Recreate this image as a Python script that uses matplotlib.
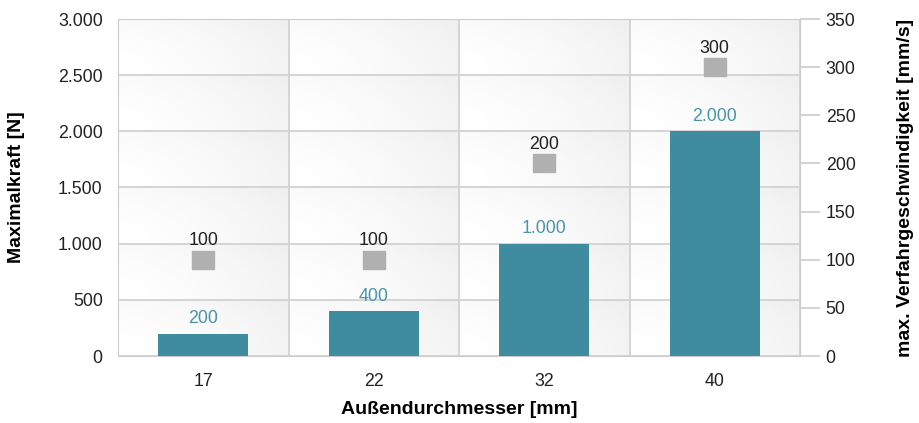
import matplotlib.pyplot as plt
import numpy as np
from matplotlib.path import Path

plt.rcParams['font.family'] = ['Liberation Sans', 'DejaVu Sans']

categories = ['17', '22', '32', '40']
kraft = [200, 400, 1000, 2000]          # Maximalkraft [N]
speed = [100, 100, 200, 300]            # max. Verfahrgeschwindigkeit [mm/s]
kraft_labels = ['200', '400', '1.000', '2.000']
left_ticks = [0, 500, 1000, 1500, 2000, 2500, 3000]
left_labels = ['0', '500', '1.000', '1.500', '2.000', '2.500', '3.000']
right_ticks = [0, 50, 100, 150, 200, 250, 300, 350]

bar_col = '#3f8ba0'
lab_col = '#4a95a8'
sq_col = '#b0b0b0'
fs = 12.8

fig = plt.figure(figsize=(9.2, 4.23), dpi=100)
fig.patch.set_facecolor('white')
ax1 = fig.add_axes([118/920, 1-356/423, (800-118)/920, (356-19)/423])
x = np.arange(len(categories))

# shaded cells (white to light gray)
gx = np.linspace(0, 1, 60)
gy = np.linspace(0, 1, 30)
GX, GY = np.meshgrid(gx, gy)
shade = 1 - 0.045*GX**1.5 - 0.02*GY**2
img = np.dstack([shade, shade, shade])
for i in range(len(categories)):
    for j in range(len(left_ticks)-1):
        ax1.imshow(img, extent=[i-0.5, i+0.5, left_ticks[j+1], left_ticks[j]],
                   aspect='auto', zorder=0, interpolation='bilinear')
for i in range(len(categories)+1):
    ax1.axvline(i-0.5, color='#d2d2d2', lw=1.3, zorder=1)
for t in left_ticks:
    ax1.axhline(t, color='#d2d2d2', lw=1.3, zorder=1)

ax1.bar(x, kraft, width=0.53, color=bar_col, zorder=3)
for xi, v, s in zip(x, kraft, kraft_labels):
    ax1.text(xi, v+55, s, ha='center', va='bottom', color=lab_col, fontsize=fs, zorder=4)

ax1.set_xlim(-0.5, len(categories)-0.5)
ax1.set_ylim(0, 3000)
ax1.set_yticks(left_ticks)
ax1.set_yticklabels(left_labels)
ax1.set_xticks(x)
ax1.set_xticklabels(categories)
ax1.tick_params(axis='both', length=0, labelsize=fs, colors='#222222')
ax1.tick_params(axis='x', pad=12)
ax1.tick_params(axis='y', pad=11)
for sp in ax1.spines.values():
    sp.set_color('#cccccc')
ax1.set_xlabel('Außendurchmesser [mm]', fontsize=14, fontweight='bold', labelpad=8)
ax1.set_ylabel('Maximalkraft [N]', fontsize=14, fontweight='bold', labelpad=24)

ax2 = ax1.twinx()
ax2.set_ylim(0, 350)
ax2.set_yticks(right_ticks)
ax2.tick_params(axis='y', length=14.5, width=1.2, color='#cccccc', labelsize=fs,
                colors='#222222', pad=4)
for t in ax2.yaxis.get_major_ticks():
    t.tick2line.set_color('#cccccc')
for sp in ax2.spines.values():
    sp.set_visible(False)
rect = Path([(-1.3, -1), (1.3, -1), (1.3, 1), (-1.3, 1), (-1.3, -1)],
            [Path.MOVETO, Path.LINETO, Path.LINETO, Path.LINETO, Path.CLOSEPOLY])
ax2.plot(x, speed, linestyle='none', marker=rect, markersize=16, color=sq_col, zorder=5)
for xi, v in zip(x, speed):
    ax2.text(xi, v+11, str(v), ha='center', va='bottom', color='#222222', fontsize=fs)
ax2.set_ylabel('max. Verfahrgeschwindigkeit [mm/s]', fontsize=14, fontweight='bold',
               labelpad=30)

fig.savefig('out.png', dpi=100)
